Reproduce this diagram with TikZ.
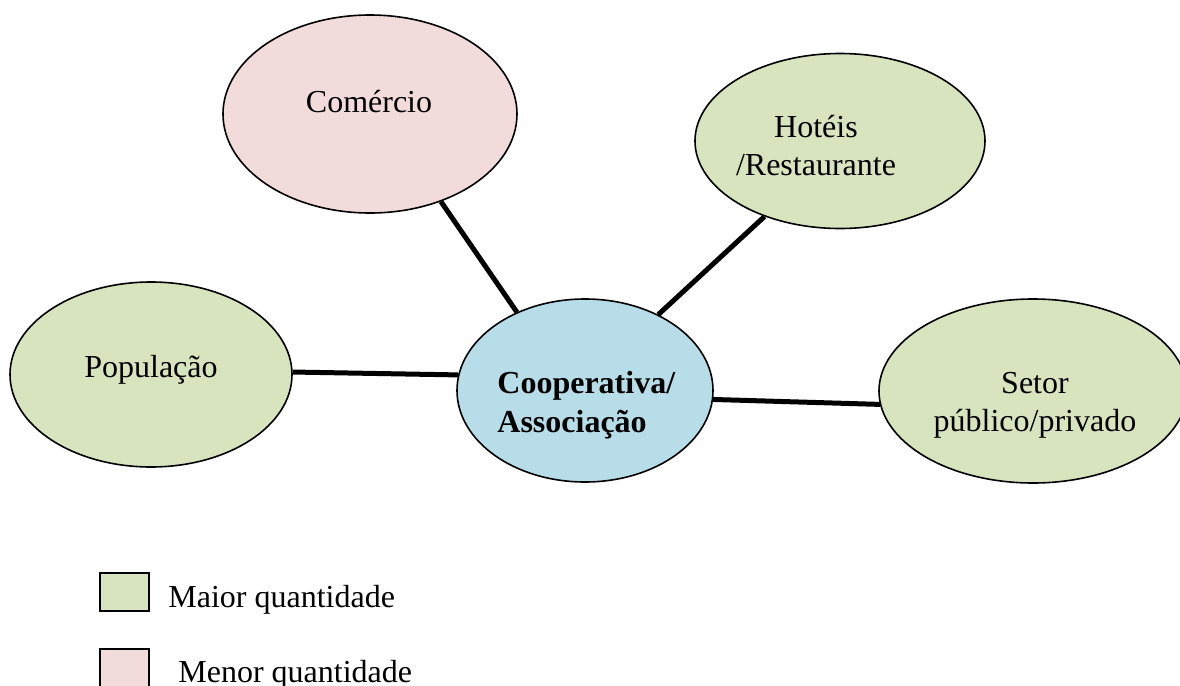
\documentclass[tikz,border=0pt]{standalone}
\usepackage{fontspec}
\setmainfont{Liberation Serif}
\usetikzlibrary{shapes.geometric}
\definecolor{verde}{HTML}{D7E4BD}
\definecolor{rosa}{HTML}{F2DCDB}
\definecolor{azul}{HTML}{B7DEE8}
\begin{document}
\begin{tikzpicture}[x=0.5pt,y=-0.5pt,
  bolha/.style={ellipse,draw=black,line width=0.8pt,inner sep=0pt},
  rotulo/.style={inner sep=0pt,anchor=base,font=\fontsize{16}{19}\selectfont},
  ligacao/.style={line width=2.5pt},
  chave/.style={draw=black,line width=1pt,inner sep=0pt,anchor=north west,minimum width=24.5pt}]
\useasboundingbox (0,0) rectangle (1180,686);

% actors around the cooperative
\node[bolha,fill=rosa,minimum width=147pt,minimum height=99pt]   (com) at (370,114) {};
\node[bolha,fill=verde,minimum width=145pt,minimum height=87.5pt] (hot) at (840,141) {};
\node[bolha,fill=verde,minimum width=141pt,minimum height=92.5pt] (pop) at (151,374.5) {};
\node[bolha,fill=azul,minimum width=128pt,minimum height=91.5pt]  (cen) at (585,390.5) {};
\node[bolha,fill=verde,minimum width=154pt,minimum height=92pt]   (set) at (1033,391) {};

% texts inside the ellipses
\node[rotulo] (com-t) at (369,112) {Comércio};
\node[rotulo] (hot-t) at (816,137) {\begin{tabular}[t]{@{}c@{}}Hotéis\\/Restaurante\end{tabular}};
\node[rotulo] (pop-t) at (151,377) {População};
\node[rotulo,anchor=base west,font=\fontsize{16}{19.5}\selectfont\bfseries] (cen-t) at (497,393)
  {\begin{tabular}[t]{@{}l@{}}Cooperativa/\\Associação\end{tabular}};
\node[rotulo] (set-t) at (1035,393) {\begin{tabular}[t]{@{}c@{}}Setor\\público/privado\end{tabular}};

% links to the cooperative
\draw[ligacao] (com.-51)  -- (cen.131);
\draw[ligacao] (hot.225)  -- (cen.46);
\draw[ligacao] (pop.1)    -- (cen.173.5);
\draw[ligacao] (cen.-4)   -- (set.185);

% legend
\node[chave,fill=verde,minimum height=19pt] (leg-maior) at (99,572) {};
\node[chave,fill=rosa,minimum height=30pt]  (leg-menor) at (99,648) {};
\node[rotulo,anchor=base west] (leg-maior-t) at (168,607) {Maior quantidade};
\node[rotulo,anchor=base west] (leg-menor-t) at (178,682) {Menor quantidade};
\end{tikzpicture}
\end{document}
